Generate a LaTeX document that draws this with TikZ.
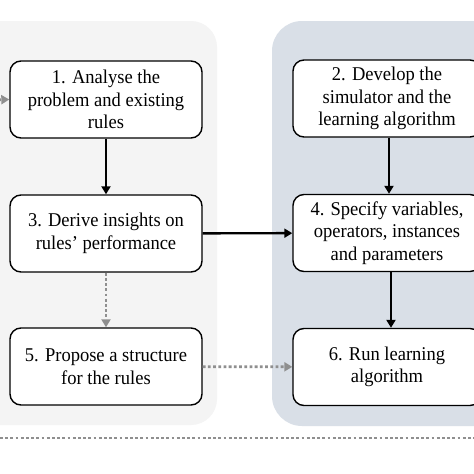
\documentclass[tikz,border=0pt]{standalone}
\usepackage{fontspec}
\setmainfont{Liberation Serif}[FakeStretch=0.95]
\usetikzlibrary{arrows.meta}
\definecolor{leftpanel}{HTML}{F4F4F4}
\definecolor{rightpanel}{HTML}{D9DFE7}
\definecolor{dotgray}{HTML}{8F8F8F}
\tikzset{
  stepbox/.style={draw=black, line width=1.4pt, fill=white, rounded corners=11pt,
    minimum height=77pt, align=center, font=\fontsize{19.5}{22.5}\selectfont, inner sep=2pt},
  solidarrow/.style={draw=black, line width=2.4pt, -{Triangle[width=9pt,length=8pt]}},
  dotarrow/.style={draw=dotgray, line width=2.8pt, dash pattern=on 2.8pt off 2.4pt,
    -{Triangle[width=9pt,length=8pt]}},
  dotline/.style={draw=dotgray, line width=2.8pt, dash pattern=on 2.8pt off 2.4pt},
}
\begin{document}
\begin{tikzpicture}[x=1pt,y=-1pt]
\useasboundingbox (0,0) rectangle (474,474);
\fill[white] (0,0) rectangle (474,474);
\fill[leftpanel, rounded corners=26pt] (-40,21) rectangle (217,425);
\fill[rightpanel, rounded corners=30pt] (272,21) rectangle (520,426);
\node[stepbox, minimum width=192pt] (b1) at (106,99.5) {1. Analyse the\\problem and existing\\rules};
\node[stepbox, minimum width=192pt] (b3) at (106,233.5) {3. Derive insights on\\rules’ performance};
\node[stepbox, minimum width=192pt] (b5) at (106,366.5) {5. Propose a structure\\for the rules};
\node[stepbox, minimum width=188pt] (b2) at (387,98.5) {2. Develop the\\simulator and the\\learning algorithm};
\node[stepbox, minimum width=188pt] (b4) at (387,233) {4. Specify variables,\\operators, instances\\and parameters};
\node[stepbox, minimum width=188pt] (b6) at (387,367) {6. Run learning\\algorithm};
\coordinate (in) at (-12,100);
\coordinate (bl) at (0,438);
\coordinate (br) at (474,438);
\draw[dotarrow] (in) -- (b1.west);
\draw[solidarrow] (b1) -- (b3);
\draw[solidarrow] ([xshift=2pt]b2.south) -- ([xshift=2pt]b4.north);
\draw[solidarrow] ([xshift=4pt]b4.south) -- ([xshift=4pt]b6.north);
\draw[solidarrow] (b3) -- (b4);
\draw[dotarrow] (b3) -- (b5);
\draw[dotarrow] (b5) -- (b6);
\draw[dotline] (bl) -- (br);
\end{tikzpicture}
\end{document}
